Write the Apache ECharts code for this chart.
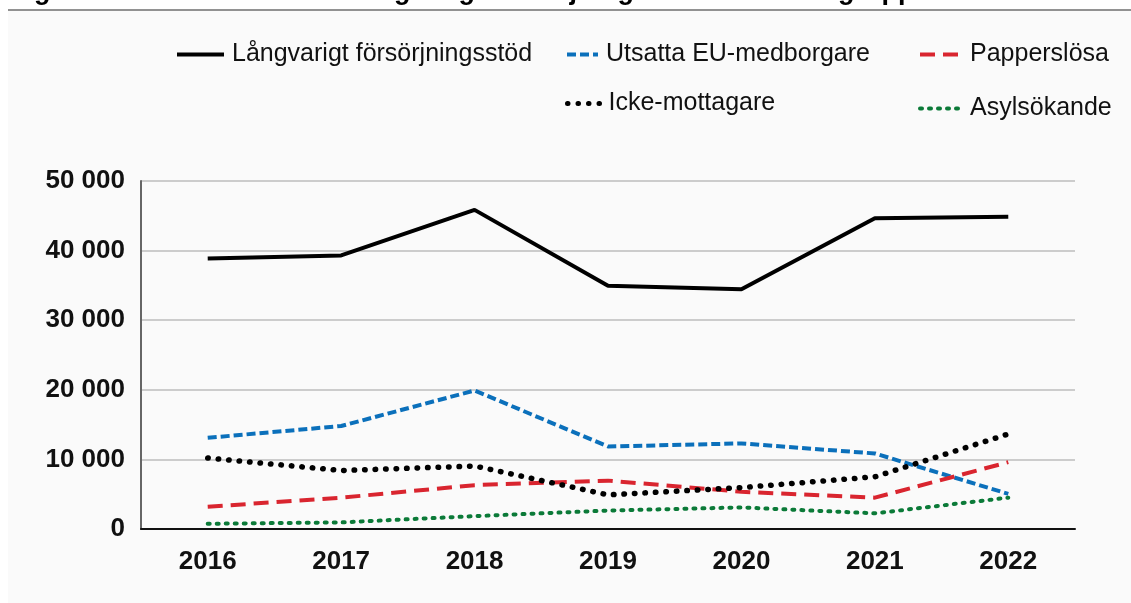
<!DOCTYPE html>
<html>
<head>
<meta charset="utf-8">
<script src="https://cdn.jsdelivr.net/npm/echarts@6/dist/echarts.min.js"></script>
<style>
    html, body { margin: 0; padding: 0; background: #fff; }
    #chart { width: 1131px; height: 603px; }
</style>
</head>
<body>
<div id="chart"></div>
<script>
    // år och värden
    var years = ['2016', '2017', '2018', '2019', '2020', '2021', '2022'];
    var langvarigt = [38850, 39300, 45850, 34950, 34450, 44650, 44850];
    var utsattaEU = [13100, 14800, 19900, 11850, 12300, 10850, 5050];
    var papperslosa = [3200, 4500, 6300, 6950, 5350, 4500, 9600];
    var ickeMottagare = [10200, 8400, 9050, 4900, 5950, 7500, 13650];
    var asylsokande = [750, 950, 1850, 2650, 3100, 2250, 4500];
    var yTicks = [0, 10000, 20000, 30000, 40000, 50000];

    var font = 'Liberation Sans, Arial, sans-serif';

    function legendAt(name, left, top, w, lw) {
        return {
            data: [name],
            left: left,
            top: top,
            itemWidth: w,
            itemHeight: 14,
            itemGap: 0,
            padding: 0,
            selectedMode: false,
            itemStyle: { opacity: 0 },
            lineStyle: { width: lw },
            textStyle: {
                color: '#111',
                fontSize: 25,
                fontFamily: font,
                padding: [0, 0, 0, 3]
            }
        };
    }

    var chart = echarts.init(document.getElementById('chart'));
    var option = {
        backgroundColor: '#ffffff',
        animation: false,
        graphic: [
            {
                type: 'rect',
                shape: { x: 8, y: 10, width: 1123, height: 593 },
                style: { fill: '#fafafa' },
                z: -10
            },
            {
                type: 'line',
                shape: { x1: 8, y1: 10, x2: 1131, y2: 10 },
                style: { stroke: '#6e6e6e', lineWidth: 1.5 },
                z: -9
            },
            {
                // rubriken ligger utanför bilden, bara nedstaplarna syns
                type: 'text',
                left: 10,
                top: -22,
                style: {
                    text: 'Figur 1. Antal hushåll med långvarigt försörjningsstöd och olika grupper',
                    font: 'bold 27px ' + font,
                    fill: '#000'
                }
            }
        ],
        legend: [
            legendAt('Långvarigt försörjningsstöd', 175, 42, 47, 4),
            legendAt('Utsatta EU-medborgare', 565, 42, 31, 4),
            legendAt('Papperslösa', 918, 42, 42, 4),
            legendAt('Icke-mottagare', 565, 91, 33, 5),
            legendAt('Asylsökande', 918, 96, 42, 4)
        ],
        grid: {
            left: 141,
            right: 56,
            top: 181,
            bottom: 74
        },
        xAxis: {
            type: 'category',
            data: years,
            boundaryGap: true,
            axisLine: { show: true, lineStyle: { color: '#111', width: 2 } },
            axisTick: { show: false },
            axisLabel: {
                color: '#111',
                fontSize: 26,
                fontWeight: 'bold',
                fontFamily: font,
                margin: 20
            }
        },
        yAxis: {
            type: 'value',
            min: 0,
            max: 50000,
            interval: 10000,
            axisLine: { show: true, lineStyle: { color: '#666', width: 2 } },
            axisTick: { show: false },
            axisLabel: {
                color: '#111',
                fontSize: 26,
                fontWeight: 'bold',
                fontFamily: font,
                margin: 16,
                formatter: function (v) {
                    if (yTicks.indexOf(v) < 0) return '';
                    return String(v).replace(/\B(?=(\d{3})+(?!\d))/g, ' ');
                }
            },
            splitLine: { show: true, lineStyle: { color: '#bcbcbc', width: 1.5 } }
        },
        series: [
            {
                name: 'Långvarigt försörjningsstöd',
                type: 'line',
                data: langvarigt,
                symbol: 'none',
                lineStyle: { color: '#000', width: 4 },
                itemStyle: { color: '#000' },
                z: 5
            },
            {
                name: 'Utsatta EU-medborgare',
                type: 'line',
                data: utsattaEU,
                symbol: 'none',
                lineStyle: { color: '#0b70bb', width: 4, type: [9, 4] },
                itemStyle: { color: '#0b70bb' }
            },
            {
                name: 'Papperslösa',
                type: 'line',
                data: papperslosa,
                symbol: 'none',
                lineStyle: { color: '#d9252f', width: 4, type: [15, 8] },
                itemStyle: { color: '#d9252f' }
            },
            {
                name: 'Icke-mottagare',
                type: 'line',
                data: ickeMottagare,
                symbol: 'none',
                lineStyle: { color: '#000', width: 5.5, type: [0.5, 10], cap: 'round' },
                itemStyle: { color: '#000' }
            },
            {
                name: 'Asylsökande',
                type: 'line',
                data: asylsokande,
                symbol: 'none',
                lineStyle: { color: '#0b7a38', width: 4, type: [2, 7], cap: 'round' },
                itemStyle: { color: '#0b7a38' }
            }
        ]
    };
    chart.setOption(option);
    window.addEventListener('resize', function () {
        chart.resize();
    });
</script>
</body>
</html>
